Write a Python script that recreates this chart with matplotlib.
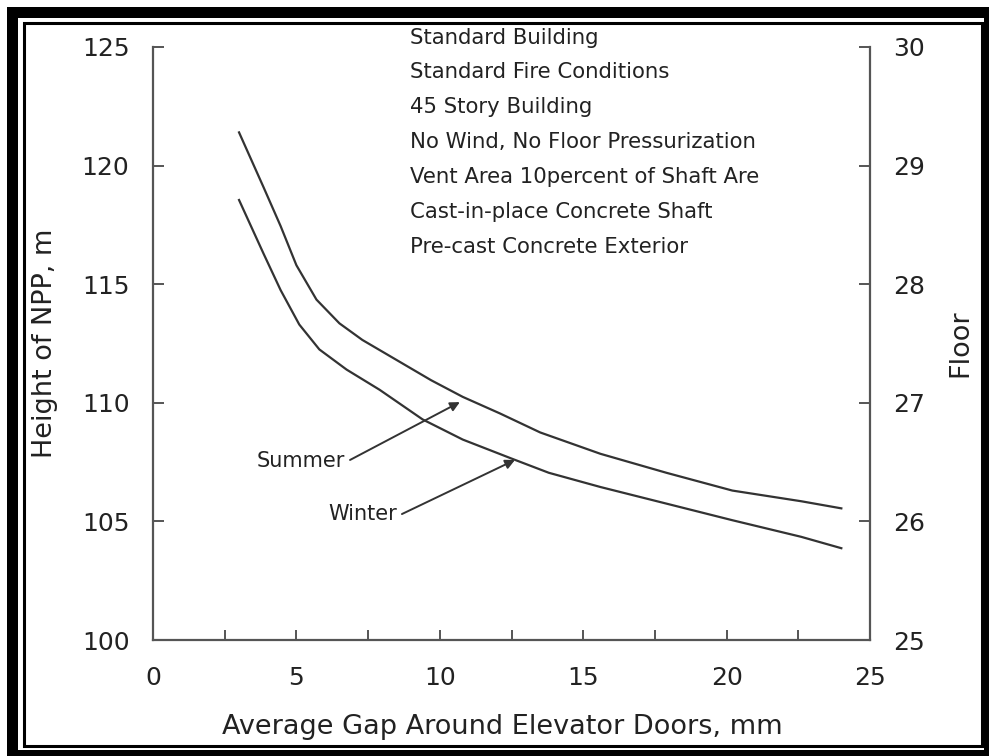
import matplotlib
matplotlib.use("Agg")
import matplotlib.pyplot as plt
from matplotlib.patches import Rectangle
from matplotlib.ticker import MultipleLocator

plt.rcParams['font.family'] = ['DejaVu Sans']

# Data
summer_x = [3.0, 3.85, 4.45, 5.0, 5.7, 6.5, 7.3, 8.5, 9.7, 10.8, 12.1, 13.5, 15.6, 17.9, 20.2, 22.6, 24.0]
summer_y = [121.4, 119.1, 117.45, 115.8, 114.35, 113.35, 112.65, 111.8, 110.95, 110.25, 109.55, 108.75,
            107.85, 107.05, 106.3, 105.85, 105.55]
winter_x = [3.0, 3.85, 4.45, 5.1, 5.8, 6.75, 7.9, 9.4, 10.8, 12.5, 13.8, 15.6, 17.9, 20.2, 22.6, 24.0]
winter_y = [118.55, 116.3, 114.75, 113.3, 112.25, 111.4, 110.55, 109.3, 108.45, 107.65, 107.05, 106.45,
            105.75, 105.05, 104.35, 103.87]

x_ticks = [0, 5, 10, 15, 20, 25]
y_ticks = [100, 105, 110, 115, 120, 125]
floor_ticks = [25, 26, 27, 28, 29, 30]

notes = ["Standard Building",
         "Standard Fire Conditions",
         "45 Story Building",
         "No Wind, No Floor Pressurization",
         "Vent Area 10percent of Shaft Are",
         "Cast-in-place Concrete Shaft",
         "Pre-cast Concrete Exterior"]

W, H = 989, 756
fig = plt.figure(figsize=(W / 100, H / 100), dpi=100)

def fx(px):
    return px / W

def fy(py):
    return 1 - py / H

# Frame
fig.add_artist(Rectangle((fx(7), fy(760)), fx(990) - fx(7), fy(7) - fy(760),
                         transform=fig.transFigure, facecolor='black', edgecolor='none', zorder=-10))
fig.add_artist(Rectangle((fx(18), fy(750)), fx(984) - fx(18), fy(18) - fy(750),
                         transform=fig.transFigure, facecolor='white', edgecolor='none', zorder=-9))
fig.add_artist(Rectangle((fx(23.5), fy(745.5)), fx(981.5) - fx(23.5), fy(23.5) - fy(745.5),
                         transform=fig.transFigure, facecolor='none', edgecolor='black',
                         linewidth=2.2, zorder=-8))

ax = fig.add_axes([fx(153), fy(640), fx(870) - fx(153), fy(47) - fy(640)])
ax.patch.set_alpha(0)

line_color = '#333333'
spine_color = '#555555'
text_color = '#222222'

ax.plot(summer_x, summer_y, color=line_color, linewidth=1.6)
ax.plot(winter_x, winter_y, color=line_color, linewidth=1.6)

ax.set_xlim(0, 25)
ax.set_ylim(100, 125)
ax.set_xticks(x_ticks)
ax.set_yticks(y_ticks)
ax.xaxis.set_minor_locator(MultipleLocator(2.5))

for s in ['left', 'bottom', 'right']:
    ax.spines[s].set_color(spine_color)
    ax.spines[s].set_linewidth(1.6)
ax.spines['top'].set_visible(False)

ax.tick_params(axis='both', which='both', direction='in', color=spine_color, width=1.4,
               labelsize=18, labelcolor=text_color)
ax.tick_params(axis='x', which='both', length=7, pad=19)
ax.tick_params(axis='y', which='major', length=8, pad=17)

ax.set_xlabel("Average Gap Around Elevator Doors, mm", fontsize=19.5, color=text_color, labelpad=17)
ax.xaxis.label.set_x(0.4874)
ax.set_ylabel("Height of NPP, m", fontsize=19.5, color=text_color, labelpad=17)

ax2 = ax.twinx()
ax2.set_ylim(25, 30)
ax2.set_yticks(floor_ticks)
for s in ['left', 'bottom', 'right', 'top']:
    ax2.spines[s].set_visible(False)
ax2.tick_params(axis='y', direction='in', length=8, width=1.4, color=spine_color,
                labelsize=18, labelcolor=text_color, pad=17)
ax2.set_ylabel("Floor", fontsize=19.5, color=text_color, labelpad=16)

# Notes
y0, step = 125.4, 1.475
for i, t in enumerate(notes):
    ax.text(8.96, y0 - i * step, t, fontsize=15.3, color=text_color,
            ha='left', va='center', clip_on=False)

# Arrow labels
arrow_kw = dict(arrowstyle='-|>', color=line_color, lw=1.4, mutation_scale=14,
                shrinkA=0, shrinkB=0)
ax.annotate("", xy=(10.70, 110.03), xytext=(6.87, 107.59), arrowprops=arrow_kw)
ax.text(6.69, 107.55, "Summer", fontsize=15, color=text_color, ha='right', va='center')
ax.annotate("", xy=(12.62, 107.59), xytext=(8.68, 105.31), arrowprops=arrow_kw)
ax.text(8.50, 105.31, "Winter", fontsize=15, color=text_color, ha='right', va='center')

fig.savefig("out.png", dpi=100)
